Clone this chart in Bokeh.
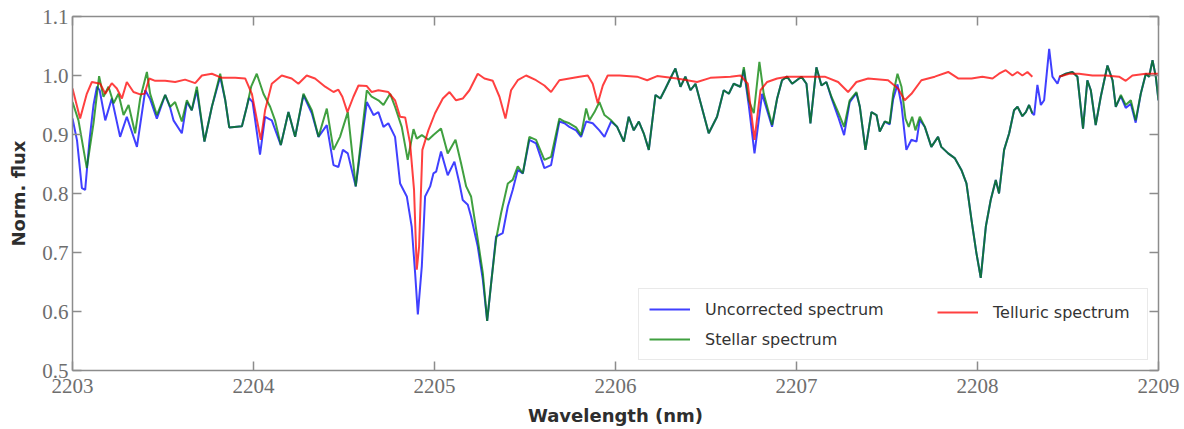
from bokeh.plotting import figure
from bokeh.models import (Range1d, LinearAxis, FixedTicker, PrintfTickFormatter,
                          Legend, LegendItem)
from bokeh.embed import file_html
from bokeh.resources import INLINE

nan = float("nan")

# ---------------- data ----------------
stellar_wl = [
    2203.000, 2203.033, 2203.079, 2203.116, 2203.147, 2203.171, 2203.199, 2203.227,
    2203.254, 2203.282, 2203.310, 2203.346, 2203.374, 2203.411, 2203.429, 2203.466,
    2203.512, 2203.540, 2203.567, 2203.604, 2203.632, 2203.659, 2203.687, 2203.729,
    2203.770, 2203.816, 2203.844, 2203.866, 2203.936, 2203.963, 2203.987, 2204.018,
    2204.055, 2204.092, 2204.119, 2204.151, 2204.193, 2204.230, 2204.276, 2204.322,
    2204.359, 2204.405, 2204.442, 2204.478, 2204.521, 2204.565, 2204.626, 2204.653,
    2204.690, 2204.718, 2204.755, 2204.782, 2204.819, 2204.852, 2204.884, 2204.902,
    2204.930, 2204.966, 2204.994, 2205.036, 2205.073, 2205.116, 2205.147, 2205.175,
    2205.202, 2205.239, 2205.267, 2205.291, 2205.313, 2205.340, 2205.368, 2205.405,
    2205.432, 2205.460, 2205.488, 2205.524, 2205.561, 2205.607, 2205.644, 2205.690,
    2205.718, 2205.745, 2205.782, 2205.810, 2205.838, 2205.856, 2205.884, 2205.911,
    2205.939, 2205.976, 2206.009, 2206.046, 2206.073, 2206.101, 2206.129, 2206.156,
    2206.184, 2206.221, 2206.248, 2206.276, 2206.303, 2206.331, 2206.359, 2206.386,
    2206.414, 2206.442, 2206.469, 2206.515, 2206.561, 2206.598, 2206.626, 2206.653,
    2206.690, 2206.709, 2206.736, 2206.764, 2206.795, 2206.819, 2206.865, 2206.893,
    2206.920, 2206.948, 2206.976, 2207.027, 2207.055, 2207.077, 2207.110, 2207.138,
    2207.165, 2207.193, 2207.230, 2207.263, 2207.294, 2207.331, 2207.350, 2207.381,
    2207.414, 2207.442, 2207.460, 2207.488, 2207.515, 2207.534, 2207.558, 2207.580,
    2207.602, 2207.620, 2207.639, 2207.657, 2207.681, 2207.709, 2207.745, 2207.782,
    2207.800, 2207.838, 2207.874, 2207.911, 2207.939, 2207.967, 2207.994, 2208.018,
    2208.046, 2208.073, 2208.101, 2208.119, 2208.147, 2208.175, 2208.202, 2208.221,
    2208.248, 2208.267, 2208.285, 2208.303, 2208.380, 2208.455, 2208.488, 2208.524,
    2208.552, 2208.583, 2208.607, 2208.626, 2208.653, 2208.681, 2208.718, 2208.746,
    2208.764, 2208.792, 2208.819, 2208.847, 2208.874, 2208.902, 2208.930, 2208.948,
    2208.967, 2208.985, 2209.000,
]
stellar_flux = [
    0.955, 0.924, 0.843, 0.919, 0.999, 0.964, 0.981, 0.953,
    0.969, 0.933, 0.950, 0.902, 0.961, 1.006, 0.969, 0.933,
    0.967, 0.947, 0.955, 0.922, 0.958, 0.941, 0.981, 0.888,
    0.947, 1.003, 0.958, 0.912, 0.914, 0.947, 0.981, 1.003,
    0.969, 0.947, 0.924, 0.882, 0.938, 0.896, 0.969, 0.941,
    0.896, 0.944, 0.874, 0.896, 0.938, 0.812, 0.975, 0.964,
    0.958, 0.950, 0.969, 0.947, 0.913, 0.857, 0.909, 0.893,
    0.899, 0.891, 0.899, 0.910, 0.868, 0.891, 0.851, 0.812,
    0.795, 0.722, 0.665, 0.584, 0.648, 0.722, 0.767, 0.817,
    0.823, 0.846, 0.834, 0.896, 0.891, 0.857, 0.862, 0.927,
    0.922, 0.919, 0.912, 0.899, 0.944, 0.924, 0.938, 0.955,
    0.933, 0.924, 0.913, 0.888, 0.930, 0.907, 0.922, 0.902,
    0.874, 0.967, 0.961, 0.978, 0.995, 1.012, 0.981, 0.998,
    0.975, 0.986, 0.955, 0.902, 0.930, 0.975, 0.969, 0.986,
    0.981, 1.014, 0.958, 0.936, 1.023, 0.969, 0.916, 0.961,
    0.992, 0.998, 0.986, 0.998, 0.986, 0.919, 1.014, 0.983,
    0.989, 0.964, 0.938, 0.913, 0.958, 0.972, 0.947, 0.874,
    0.938, 0.933, 0.905, 0.922, 0.919, 0.969, 1.003, 0.981,
    0.927, 0.913, 0.930, 0.907, 0.930, 0.913, 0.879, 0.896,
    0.879, 0.868, 0.860, 0.840, 0.817, 0.755, 0.699, 0.657,
    0.744, 0.789, 0.823, 0.800, 0.874, 0.902, 0.941, 0.947,
    0.931, 0.938, 0.950, 0.936, nan, 0.998, 1.003, 1.006,
    0.998, 0.910, 0.992, 0.975, 0.916, 0.964, 1.017, 0.992,
    0.947, 0.967, 0.950, 0.958, 0.924, 0.969, 1.003, 0.998,
    1.026, 0.998, 0.958,
]

uncorrected_wl = [
    2203.000, 2203.025, 2203.052, 2203.070, 2203.094, 2203.116, 2203.135, 2203.150,
    2203.181, 2203.217, 2203.263, 2203.300, 2203.356, 2203.402, 2203.429, 2203.466,
    2203.512, 2203.540, 2203.558, 2203.604, 2203.632, 2203.659, 2203.687, 2203.729,
    2203.770, 2203.816, 2203.844, 2203.866, 2203.936, 2203.975, 2203.995, 2204.036,
    2204.064, 2204.101, 2204.151, 2204.193, 2204.230, 2204.276, 2204.322, 2204.359,
    2204.405, 2204.442, 2204.469, 2204.494, 2204.521, 2204.565, 2204.626, 2204.663,
    2204.690, 2204.718, 2204.745, 2204.782, 2204.810, 2204.847, 2204.874, 2204.893,
    2204.908, 2204.930, 2204.948, 2204.976, 2204.994, 2205.009, 2205.036, 2205.073,
    2205.110, 2205.138, 2205.156, 2205.184, 2205.202, 2205.239, 2205.267, 2205.291,
    2205.313, 2205.340, 2205.377, 2205.405, 2205.432, 2205.460, 2205.488, 2205.524,
    2205.561, 2205.607, 2205.644, 2205.690, 2205.718, 2205.745, 2205.782, 2205.810,
    2205.838, 2205.874, 2205.911, 2205.939, 2205.976, 2206.009, 2206.046, 2206.073,
    2206.101, 2206.129, 2206.156, 2206.184, 2206.221, 2206.248, 2206.276, 2206.303,
    2206.331, 2206.359, 2206.386, 2206.414, 2206.442, 2206.469, 2206.515, 2206.561,
    2206.598, 2206.626, 2206.653, 2206.690, 2206.709, 2206.736, 2206.768, 2206.810,
    2206.865, 2206.893, 2206.920, 2206.948, 2206.976, 2207.027, 2207.055, 2207.077,
    2207.110, 2207.138, 2207.165, 2207.193, 2207.230, 2207.263, 2207.294, 2207.331,
    2207.350, 2207.381, 2207.414, 2207.442, 2207.460, 2207.488, 2207.515, 2207.534,
    2207.558, 2207.580, 2207.607, 2207.635, 2207.663, 2207.681, 2207.709, 2207.745,
    2207.782, 2207.800, 2207.838, 2207.874, 2207.911, 2207.939, 2207.967, 2207.994,
    2208.018, 2208.046, 2208.073, 2208.101, 2208.119, 2208.147, 2208.175, 2208.202,
    2208.221, 2208.248, 2208.267, 2208.285, 2208.303, 2208.313, 2208.331, 2208.350,
    2208.368, 2208.396, 2208.414, 2208.442, 2208.455, 2208.488, 2208.524, 2208.552,
    2208.583, 2208.607, 2208.626, 2208.653, 2208.681, 2208.718, 2208.746, 2208.764,
    2208.792, 2208.819, 2208.847, 2208.874, 2208.902, 2208.930, 2208.948, 2208.967,
    2208.985, 2209.000,
]
uncorrected_flux = [
    0.927, 0.890, 0.809, 0.806, 0.891, 0.950, 0.981, 0.975,
    0.924, 0.961, 0.896, 0.930, 0.879, 0.975, 0.960, 0.927,
    0.967, 0.945, 0.924, 0.902, 0.955, 0.941, 0.975, 0.888,
    0.947, 0.998, 0.958, 0.912, 0.914, 0.962, 0.955, 0.866,
    0.930, 0.924, 0.882, 0.938, 0.896, 0.967, 0.936, 0.896,
    0.916, 0.848, 0.845, 0.874, 0.868, 0.812, 0.955, 0.933,
    0.938, 0.913, 0.919, 0.896, 0.817, 0.795, 0.744, 0.665,
    0.595, 0.677, 0.795, 0.812, 0.834, 0.837, 0.871, 0.831,
    0.854, 0.817, 0.789, 0.781, 0.761, 0.710, 0.654, 0.584,
    0.648, 0.727, 0.733, 0.778, 0.806, 0.840, 0.834, 0.891,
    0.885, 0.843, 0.848, 0.922, 0.919, 0.913, 0.907, 0.896,
    0.922, 0.919, 0.907, 0.896, 0.922, 0.913, 0.888, 0.930,
    0.907, 0.922, 0.902, 0.874, 0.967, 0.961, 0.978, 0.995,
    1.012, 0.981, 0.998, 0.975, 0.986, 0.955, 0.902, 0.930,
    0.975, 0.969, 0.986, 0.981, 1.010, 0.950, 0.868, 0.969,
    0.913, 0.961, 0.992, 0.998, 0.986, 0.998, 0.986, 0.919,
    1.014, 0.983, 0.989, 0.962, 0.930, 0.899, 0.955, 0.970,
    0.947, 0.874, 0.938, 0.933, 0.905, 0.922, 0.917, 0.960,
    0.985, 0.950, 0.874, 0.891, 0.888, 0.925, 0.913, 0.879,
    0.896, 0.879, 0.868, 0.860, 0.840, 0.817, 0.755, 0.699,
    0.657, 0.744, 0.789, 0.823, 0.800, 0.874, 0.902, 0.941,
    0.947, 0.931, 0.938, 0.950, 0.936, 0.933, 0.984, 0.950,
    0.958, 1.045, 0.998, 0.986, 0.998, 1.003, 1.006, 0.998,
    0.910, 0.992, 0.975, 0.916, 0.964, 1.017, 0.992, 0.947,
    0.965, 0.945, 0.952, 0.920, 0.969, 1.003, 0.998, 1.026,
    0.998, 0.958,
]

telluric_wl = [
    2203.000, 2203.042, 2203.079, 2203.107, 2203.153, 2203.181, 2203.217, 2203.245,
    2203.273, 2203.300, 2203.337, 2203.374, 2203.398, 2203.424, 2203.457, 2203.512,
    2203.567, 2203.622, 2203.678, 2203.715, 2203.770, 2203.825, 2203.899, 2203.954,
    2203.991, 2204.040, 2204.064, 2204.101, 2204.156, 2204.211, 2204.248, 2204.294,
    2204.340, 2204.396, 2204.442, 2204.469, 2204.491, 2204.519, 2204.552, 2204.580,
    2204.626, 2204.653, 2204.690, 2204.745, 2204.782, 2204.810, 2204.838, 2204.865,
    2204.887, 2204.902, 2204.915, 2204.933, 2204.966, 2205.003, 2205.046, 2205.083,
    2205.119, 2205.156, 2205.193, 2205.239, 2205.276, 2205.322, 2205.359, 2205.392,
    2205.423, 2205.460, 2205.506, 2205.561, 2205.607, 2205.644, 2205.690, 2205.745,
    2205.801, 2205.847, 2205.874, 2205.902, 2205.930, 2205.957, 2206.022, 2206.119,
    2206.175, 2206.230, 2206.340, 2206.451, 2206.524, 2206.635, 2206.690, 2206.731,
    2206.768, 2206.801, 2206.838, 2206.893, 2206.948, 2207.046, 2207.156, 2207.230,
    2207.285, 2207.331, 2207.396, 2207.506, 2207.561, 2207.598, 2207.635, 2207.690,
    2207.764, 2207.838, 2207.893, 2207.967, 2208.027, 2208.083, 2208.119, 2208.156,
    2208.193, 2208.221, 2208.248, 2208.276, 2208.303, 2208.380, 2208.451, 2208.506,
    2208.561, 2208.635, 2208.709, 2208.782, 2208.819, 2208.856, 2208.930, 2209.000,
]
telluric_flux = [
    0.978, 0.927, 0.969, 0.989, 0.986, 0.969, 0.987, 0.978,
    0.961, 0.989, 0.972, 0.968, 0.969, 0.995, 0.991, 0.991,
    0.989, 0.993, 0.987, 1.000, 1.003, 0.996, 0.996, 0.995,
    0.969, 0.891, 0.941, 0.986, 1.000, 0.995, 0.986, 1.000,
    0.995, 0.981, 0.972, 0.976, 0.964, 0.938, 0.964, 0.983,
    0.982, 0.972, 0.975, 0.972, 0.958, 0.930, 0.929, 0.885,
    0.806, 0.671, 0.710, 0.874, 0.907, 0.936, 0.961, 0.972,
    0.958, 0.961, 0.975, 1.003, 0.995, 0.991, 0.964, 0.927,
    0.975, 0.992, 1.000, 0.992, 0.983, 0.972, 0.992, 0.995,
    0.998, 1.000, 0.986, 0.953, 0.983, 1.000, 1.000, 0.998,
    0.992, 0.999, 0.995, 0.989, 0.996, 0.998, 1.000, 0.986,
    0.891, 0.975, 0.989, 0.995, 0.998, 0.998, 0.998, 0.989,
    0.972, 0.989, 0.995, 0.992, 0.978, 0.958, 0.969, 0.992,
    0.998, 1.006, 0.995, 0.995, 0.998, 0.995, 1.003, 1.009,
    1.000, 1.006, 1.000, 1.006, 0.998, nan, 0.998, 1.003,
    1.003, 1.000, 1.000, 0.998, 0.991, 1.000, 1.003, 1.003,
]

x_ticks = [2203, 2204, 2205, 2206, 2207, 2208, 2209]
y_ticks = [0.5, 0.6, 0.7, 0.8, 0.9, 1.0, 1.1]

# ---------------- figure ----------------
W, H = 1182, 428
p = figure(width=W, height=H, output_backend="svg", toolbar_location=None,
           x_range=Range1d(2203, 2209), y_range=Range1d(0.5, 1.1),
           min_border_left=72, min_border_right=W - 1158, min_border_top=16,
           min_border_bottom=H - 371)
p.xgrid.grid_line_color = None
p.ygrid.grid_line_color = None
p.outline_line_color = None
p.background_fill_color = "white"

FRAME = "#8c8c8c"
TICK_FONT = "Liberation Serif"


def style_axis(ax, labels=True):
    ax.axis_line_color = FRAME
    ax.axis_line_width = 1.5
    ax.major_tick_line_color = FRAME
    ax.major_tick_line_width = 1.5
    ax.major_tick_in = 9
    ax.major_tick_out = 0
    ax.minor_tick_line_color = None
    ax.major_label_text_font = TICK_FONT
    ax.major_label_text_color = "#6e6e6e"
    ax.major_label_text_font_size = "21px"
    if not labels:
        ax.major_label_text_font_size = "1px"
        ax.major_label_standoff = 0


xa = p.xaxis[0]
xa.ticker = FixedTicker(ticks=x_ticks)
xa.formatter = PrintfTickFormatter(format="%d")
style_axis(xa)
xa.major_label_standoff = 8
xa.axis_label = "Wavelength (nm)"
xa.axis_label_text_font = "DejaVu Sans"
xa.axis_label_text_font_style = "bold"
xa.axis_label_text_font_size = "18px"
xa.axis_label_text_color = "#2e2e2e"
xa.axis_label_standoff = 9

ya = p.yaxis[0]
ya.ticker = FixedTicker(ticks=y_ticks)
ya.formatter = PrintfTickFormatter(format="%.1f")
style_axis(ya)
ya.major_label_standoff = 4
ya.axis_label = "Norm. flux"
ya.axis_label_text_font = "DejaVu Sans"
ya.axis_label_text_font_style = "bold"
ya.axis_label_text_font_size = "18px"
ya.axis_label_text_color = "#2e2e2e"
ya.axis_label_standoff = 10

top = LinearAxis(ticker=FixedTicker(ticks=x_ticks),
                 major_label_overrides={t: "" for t in x_ticks})
style_axis(top, labels=False)
p.add_layout(top, "above")
right = LinearAxis(ticker=FixedTicker(ticks=y_ticks),
                   major_label_overrides={t: "" for t in y_ticks})
style_axis(right, labels=False)
p.add_layout(right, "right")

# ---------------- spectra ----------------
r_unc = p.line(uncorrected_wl, uncorrected_flux, line_color="#0000ff",
               line_width=2, line_alpha=0.75)
r_st = p.line(stellar_wl, stellar_flux, line_color="#008000",
              line_width=2, line_alpha=0.75)
r_te = p.line(telluric_wl, telluric_flux, line_color="#ff0000",
              line_width=2, line_alpha=0.75)

common = dict(label_text_font="DejaVu Sans", label_text_font_size="16px",
              label_text_color="#333333", glyph_width=41, glyph_height=20,
              label_height=20, label_standoff=15, padding=10, spacing=10)

leg1 = Legend(items=[LegendItem(label="Uncorrected spectrum", renderers=[r_unc]),
                     LegendItem(label="Stellar spectrum", renderers=[r_st])],
              location="bottom_right", margin=10, label_width=432,
              border_line_color="#d4d4d4", border_line_width=1,
              background_fill_color="white", background_fill_alpha=0.85,
              **common)
leg2 = Legend(items=[LegendItem(label="Telluric spectrum", renderers=[r_te])],
              location=(865, 48), margin=0,
              border_line_color=None, background_fill_alpha=0.0,
              **common)
p.add_layout(leg1)
p.add_layout(leg2)

open("out.html", "w").write(file_html(p, INLINE))
